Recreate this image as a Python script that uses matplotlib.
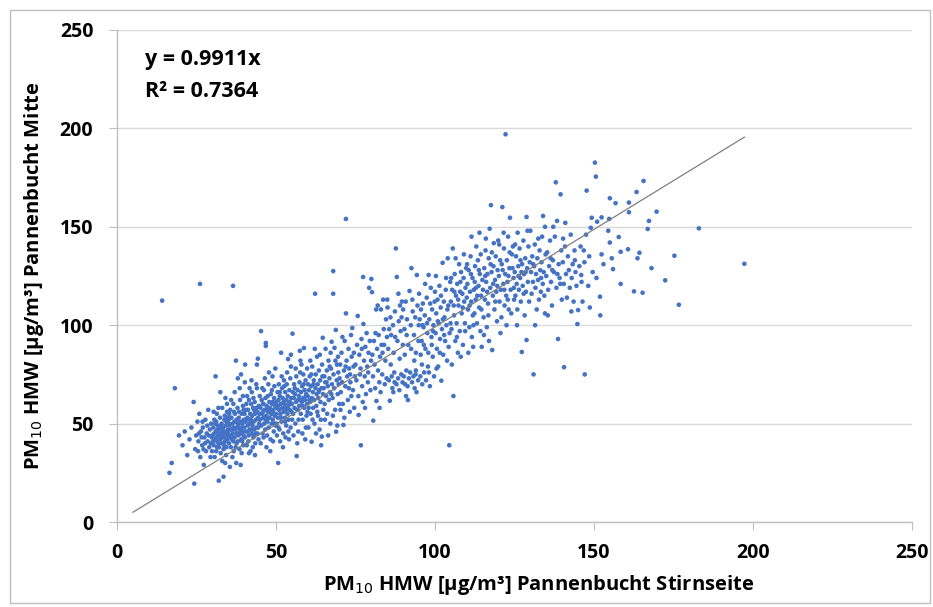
import numpy as np
import matplotlib
matplotlib.use("Agg")
import matplotlib.pyplot as plt
from matplotlib.patches import Rectangle

# PM10 half-hour means: (Stirnseite, Mitte)
punkte_niedrig = [
    (14.2, 112.5), (16.5, 25), (17.2, 30), (18.2, 68), (19.5, 44), (20.6, 39), (21.3, 46), (22.1, 34),
    (22.8, 42), (23.4, 48), (24.3, 19.5), (24.1, 61), (24.6, 37), (24.9, 44),
    (25.3, 51), (25.6, 41), (25.9, 55), (26.1, 121), (26.2, 33), (26.4, 46), (26.8, 39), (27.0, 48),
    (27.3, 29), (27.5, 43), (27.8, 52), (28.0, 36), (28.2, 45), (28.5, 41), (28.7, 57), (29.0, 38),
    (29.2, 47), (29.4, 33), (29.6, 50), (29.8, 43), (25.8, 45), (26.6, 43), (27.2, 37), (28.9, 44),
    (29.5, 40), (28.4, 49), (27.7, 40), (26.9, 51), (29.9, 36), (25.5, 36),
    (30.1, 44), (30.3, 48), (30.4, 39), (30.6, 52), (30.8, 42), (31.0, 74), (31.1, 46), (31.2, 36),
    (31.4, 55), (31.5, 41), (31.7, 49), (31.8, 44), (32.0, 21), (32.1, 38), (32.2, 47), (32.4, 53),
    (32.5, 42), (32.6, 35), (32.8, 45), (32.9, 50), (33.0, 40), (33.1, 58), (33.2, 44), (33.4, 48),
    (33.5, 37), (33.6, 43), (33.8, 52), (33.9, 46), (34.0, 41), (34.1, 63), (34.2, 49), (34.3, 34),
    (34.5, 45), (34.6, 56), (34.7, 42), (34.9, 47), (30.5, 45), (30.9, 50), (31.3, 43), (31.9, 40),
    (32.3, 44), (32.7, 49), (33.3, 46), (33.7, 39), (34.4, 51), (34.8, 44), (30.2, 41), (31.6, 47),
    (32.9, 43), (33.9, 54), (34.4, 38), (31.9, 58), (33.1, 31), (30.7, 33), (34.6, 60), (32.5, 66),
    (33.5, 23), (34.0, 30), (31.2, 51), (32.0, 45), (33.8, 45), (34.9, 53), (30.4, 56), (31.5, 38),
    (33.0, 48),
    (35.0, 46), (35.1, 52), (35.2, 40), (35.4, 49), (35.5, 44), (35.6, 57), (35.8, 38), (35.9, 47),
    (36.0, 53), (36.1, 42), (36.3, 50), (36.4, 45), (36.5, 120), (36.6, 60), (36.7, 36), (36.8, 48),
    (37.0, 43), (37.1, 55), (37.2, 47), (37.4, 82), (37.5, 51), (37.6, 40), (37.7, 45), (37.9, 58),
    (38.0, 73), (38.1, 49), (38.2, 44), (38.3, 53), (38.5, 37), (38.6, 47), (38.7, 62), (38.9, 51),
    (39.0, 75), (39.1, 42), (39.2, 55), (39.3, 48), (39.5, 46), (39.6, 59), (39.7, 39), (39.9, 52),
    (35.3, 55), (35.7, 43), (36.2, 47), (36.9, 51), (37.3, 38), (37.8, 48), (38.4, 56), (38.8, 45),
    (39.4, 50), (39.8, 44), (35.9, 62), (36.3, 33), (37.0, 66), (37.5, 30), (38.0, 41), (38.6, 68),
    (39.2, 35), (39.6, 64), (36.0, 44), (36.8, 56), (37.6, 52), (38.2, 50), (39.0, 47), (39.8, 57),
    (35.5, 28), (38.9, 29), (36.6, 41), (37.9, 45), (39.4, 41), (35.2, 50),
    (40.0, 48), (40.1, 55), (40.2, 43), (40.3, 80), (40.4, 51), (40.6, 46), (40.7, 60), (40.8, 39),
    (41.0, 53), (41.1, 49), (41.2, 57), (41.4, 44), (41.5, 62), (41.6, 50), (41.8, 47), (41.9, 55),
    (42.0, 36), (42.1, 52), (42.3, 45), (42.4, 66), (42.5, 54), (42.6, 49), (42.8, 58), (42.9, 43),
    (43.0, 51), (43.2, 47), (43.3, 61), (43.4, 55), (43.5, 40), (43.7, 52), (43.8, 70), (43.9, 48),
    (44.0, 80), (44.1, 56), (44.2, 45), (44.3, 83), (44.4, 53), (44.6, 59), (44.7, 50), (44.9, 64),
    (40.5, 57), (41.3, 41), (41.7, 68), (42.2, 60), (42.7, 38), (43.1, 57), (43.6, 45), (44.5, 42),
    (44.8, 55), (40.9, 64), (41.5, 35), (42.3, 72), (43.4, 34), (44.0, 68), (40.2, 71), (42.9, 63),
    (43.9, 58), (41.0, 46), (42.0, 50), (40.6, 52), (43.0, 44), (44.4, 48), (41.8, 52), (42.5, 47),
    (43.7, 56),
]

punkte_mittel = [
    (45.0, 52), (45.1, 58), (45.3, 97), (45.4, 49), (45.5, 62), (45.6, 55), (45.8, 45), (45.9, 60),
    (46.0, 53), (46.2, 67), (46.3, 50), (46.4, 57), (46.6, 47), (46.7, 63), (46.8, 91), (46.8, 89.5),
    (46.9, 54), (47.1, 59), (47.2, 44), (47.3, 51), (47.5, 56), (47.6, 70), (47.7, 48), (47.9, 61),
    (48.0, 53), (48.1, 58), (48.3, 42), (48.4, 65), (48.5, 55), (48.6, 50), (48.8, 60), (48.9, 74),
    (49.0, 52), (49.2, 57), (49.3, 46), (49.4, 63), (49.6, 54), (49.7, 59), (49.9, 49), (45.2, 40),
    (45.7, 68), (46.1, 43), (46.5, 73), (47.0, 38), (47.4, 64), (47.8, 76), (48.2, 36), (48.7, 67),
    (49.1, 41), (49.5, 69), (49.8, 78), (45.9, 56), (46.7, 52), (47.5, 53), (48.3, 57), (49.0, 61),
    (49.6, 50), (46.1, 60), (47.0, 57), (48.9, 55),
    (50.0, 55), (50.1, 61), (50.2, 50), (50.4, 58), (50.5, 66), (50.6, 53), (50.7, 30), (50.8, 62),
    (51.0, 57), (51.1, 47), (51.2, 64), (51.4, 55), (51.5, 60), (51.6, 86), (51.7, 51), (51.9, 68),
    (52.0, 58), (52.1, 63), (52.3, 45), (52.4, 56), (52.5, 72), (52.7, 60), (52.8, 53), (52.9, 66),
    (53.1, 58), (53.2, 49), (53.3, 62), (53.5, 76), (53.6, 55), (53.7, 64), (53.8, 82.8), (53.9, 59),
    (54.0, 52), (54.2, 67), (54.3, 57), (54.4, 61), (54.6, 48), (54.7, 85), (54.7, 79), (54.8, 63),
    (54.9, 56), (50.3, 44), (50.9, 70), (51.3, 41), (51.8, 74), (52.2, 38), (52.6, 69), (53.0, 43),
    (53.4, 70), (54.1, 42), (54.5, 73), (50.6, 59), (51.5, 53), (52.4, 61), (53.2, 57), (54.0, 60),
    (50.8, 48), (52.9, 51), (53.9, 46), (51.2, 66),
    (55.0, 60), (55.2, 95.7), (55.3, 66), (55.4, 55), (55.6, 63), (55.7, 70), (55.8, 58), (56.0, 65),
    (56.1, 50), (56.3, 61), (56.4, 74), (56.5, 33.5), (56.6, 57), (56.8, 67), (56.9, 62), (57.0, 46),
    (57.2, 64), (57.3, 59), (57.4, 71), (57.5, 87), (57.7, 82), (57.8, 55), (57.9, 66), (58.0, 80),
    (58.1, 61), (58.2, 69), (58.4, 52), (58.5, 63), (58.6, 75), (58.8, 88.4), (58.9, 58), (59.0, 67),
    (59.1, 62), (59.3, 72), (59.4, 48), (59.5, 65), (59.7, 60), (59.8, 78), (59.9, 56), (55.5, 44),
    (56.2, 78), (56.7, 40), (57.1, 52), (57.6, 76), (58.3, 45), (58.7, 70), (59.2, 42), (59.6, 54),
    (55.9, 68), (56.9, 57), (57.6, 62), (58.4, 59), (59.4, 64), (55.1, 52),
    (60.0, 64), (60.1, 70), (60.3, 58), (60.4, 67), (60.6, 74), (60.7, 61), (60.9, 55), (61.0, 69),
    (61.2, 40.8), (61.3, 63), (61.4, 79), (61.6, 66), (61.7, 58), (61.9, 72), (62.0, 62), (62.1, 50),
    (62.3, 116), (62.4, 68), (62.5, 75), (62.7, 59), (62.8, 65), (62.9, 84), (63.1, 70), (63.2, 54),
    (63.3, 63), (63.5, 77), (63.6, 67), (63.7, 47), (63.9, 72), (64.0, 61), (64.2, 39), (64.3, 68),
    (64.4, 43.4), (64.5, 80), (64.7, 93.6), (64.8, 65), (64.9, 57), (60.2, 48), (60.8, 82), (61.5, 52),
    (62.2, 88), (62.6, 45), (63.0, 56), (63.8, 85), (64.1, 52), (64.6, 74), (60.5, 62), (61.8, 70),
    (63.4, 66), (61.1, 75),
    (65.0, 68), (65.2, 74), (65.3, 60), (65.5, 71), (65.6, 88), (65.8, 64), (66.0, 77), (66.1, 55),
    (66.3, 69), (66.5, 82), (66.6, 62), (66.8, 73), (67.0, 66), (67.1, 50), (67.3, 78), (67.5, 91.6),
    (67.6, 70), (67.8, 63), (68.0, 127.5), (68.0, 116), (68.1, 75), (68.3, 68), (68.4, 88.5), (68.6, 57),
    (68.8, 97.6), (68.9, 45.9), (69.1, 72), (69.2, 80), (69.4, 65), (69.5, 84), (69.7, 70), (69.9, 60),
    (65.4, 52), (66.4, 44), (67.2, 86), (67.9, 54), (68.7, 82), (69.3, 49), (66.9, 79), (65.9, 71),
    (69.6, 76), (67.4, 65),
    (70.0, 73), (70.2, 80), (70.4, 66), (70.6, 86), (70.8, 71), (71.0, 60), (71.2, 49.3), (71.4, 77),
    (71.6, 92), (71.8, 69), (72.0, 106), (72.0, 154), (72.2, 82), (72.4, 74), (72.6, 62), (72.8, 88),
    (73.0, 78), (73.2, 56), (73.4, 71), (73.6, 95), (73.8, 84), (74.0, 98.6), (74.2, 67), (74.4, 79),
    (74.6, 58), (74.8, 74), (70.9, 94), (71.5, 53), (72.9, 68), (73.7, 64), (74.5, 86), (70.3, 57),
    (71.9, 79), (73.3, 75),
    (75.0, 80), (75.3, 72), (75.5, 90), (75.7, 104.7), (76.0, 54.4), (76.2, 85), (76.4, 75), (76.7, 39),
    (76.9, 93), (77.1, 69), (77.3, 61), (77.4, 124.5), (77.5, 100.6), (77.7, 82), (77.9, 74), (78.1, 89),
    (78.3, 65), (78.5, 96), (78.7, 79), (78.9, 71), (79.1, 86), (79.3, 119), (79.5, 92), (79.7, 67),
    (79.9, 82), (75.9, 64), (76.6, 78), (78.0, 58), (79.0, 76), (77.0, 88),
]

punkte_hoch = [
    (80.0, 123.5), (80.2, 116.8), (80.3, 85), (80.5, 74), (80.6, 51.5), (80.8, 92), (81.0, 80), (81.2, 68),
    (81.5, 108), (81.6, 61.5), (81.8, 88), (82.0, 110), (82.1, 77), (82.3, 95), (82.5, 71), (82.7, 84),
    (82.9, 66), (83.0, 108), (83.2, 90), (83.4, 75), (83.7, 113), (83.9, 98), (84.0, 90), (84.2, 70),
    (84.4, 82), (84.6, 103), (84.8, 73), (81.3, 96), (82.6, 58), (83.5, 86), (84.9, 94),
    (85.0, 113), (85.1, 109), (85.3, 88), (85.5, 72), (85.8, 61.6), (86.0, 104), (86.2, 95), (86.4, 74),
    (86.6, 68), (86.8, 100), (87.0, 86), (87.2, 76), (87.4, 107), (87.7, 139), (87.9, 70), (88.0, 124.5),
    (88.2, 92), (88.4, 73), (88.6, 102), (88.8, 67), (89.0, 110), (89.2, 97), (89.4, 75), (89.6, 112),
    (89.8, 71), (86.1, 80), (86.9, 66), (87.5, 94), (88.9, 83), (89.5, 104), (85.6, 98), (87.3, 71),
    (88.5, 116), (89.9, 90),
    (90.0, 108), (90.2, 74), (90.4, 98), (90.6, 70), (90.8, 112), (91.0, 77), (91.2, 103), (91.4, 69),
    (91.6, 90), (91.8, 73), (92.0, 117.4), (92.2, 76), (92.4, 100), (92.6, 129), (92.8, 71), (93.0, 107),
    (93.2, 74), (93.4, 95), (93.6, 68), (93.8, 104), (94.0, 77), (94.3, 125.5), (94.5, 110), (94.7, 72),
    (94.9, 100), (90.5, 85), (91.5, 62), (92.5, 88), (93.5, 82), (94.2, 66), (91.1, 95), (92.9, 113),
    (93.9, 75), (94.8, 92), (90.9, 64), (94.0, 86),
    (95.0, 116), (95.2, 103), (95.4, 74), (95.6, 108), (95.8, 92), (96.0, 70), (96.2, 111), (96.4, 99),
    (96.6, 76), (96.8, 105), (97.0, 88), (97.2, 72), (97.4, 114), (97.6, 96), (97.8, 79), (98.0, 125.5),
    (98.2, 103), (98.4, 69), (98.7, 119), (98.9, 94), (99.1, 108), (99.3, 84), (99.5, 100), (99.7, 74),
    (99.9, 112), (95.5, 85), (96.5, 90), (97.5, 101), (98.5, 111), (99.0, 90), (96.9, 121), (99.4, 97),
    (95.9, 80), (97.9, 86), (98.1, 76), (96.1, 100),
    (100.0, 117), (100.2, 96), (100.4, 106), (100.6, 88), (100.8, 113), (101.0, 79), (101.2, 101), (101.4, 120),
    (101.6, 93), (101.8, 109), (102.0, 71.8), (102.2, 98), (102.4, 131.7), (102.6, 85), (102.8, 112), (103.0, 104),
    (103.2, 92), (103.4, 118), (103.6, 100), (103.8, 82), (104.0, 134), (104.2, 110), (104.5, 39), (104.6, 96),
    (104.8, 122), (100.5, 78), (101.5, 86), (102.5, 103), (103.5, 124), (104.3, 89), (100.9, 102), (102.9, 95),
    (103.9, 108), (101.9, 115), (104.9, 101), (100.3, 125),
    (105.0, 112), (105.2, 98), (105.4, 118), (105.6, 139), (105.8, 64), (106.0, 105), (106.2, 126), (106.4, 92),
    (106.6, 115), (106.8, 101), (107.0, 121), (107.2, 86), (107.4, 110), (107.6, 131), (107.8, 97), (108.0, 122),
    (108.2, 127), (108.4, 106), (108.6, 116), (108.8, 90), (109.0, 124), (109.2, 112), (109.4, 101), (109.6, 119),
    (109.8, 129), (105.3, 80), (106.5, 134), (107.3, 113), (108.1, 84), (109.1, 136), (105.9, 110), (106.9, 94),
    (107.9, 117), (108.7, 109), (109.5, 97), (105.1, 124), (106.1, 117), (110.0, 114),
    (110.2, 121), (110.4, 108), (110.6, 128), (110.8, 99), (111.0, 117), (111.2, 135), (111.4, 112), (111.6, 94),
    (111.8, 124), (112.0, 89), (112.2, 118), (112.4, 106), (112.6, 130), (112.8, 113), (113.0, 140), (113.2, 101),
    (113.5, 133), (113.7, 120), (113.9, 109), (114.1, 126), (114.3, 97), (114.5, 115), (114.7, 89), (114.9, 123),
    (110.5, 86), (111.5, 145), (112.5, 122), (113.3, 115), (114.4, 136), (110.9, 110), (112.1, 100), (113.8, 128),
    (114.6, 108), (111.3, 126), (112.9, 119), (110.1, 131), (114.0, 147), (111.9, 105),
    (115.1, 118), (115.3, 104), (115.5, 129), (115.7, 113), (115.9, 138), (116.1, 122), (116.3, 99), (116.5, 126),
    (116.7, 111), (116.9, 134), (117.0, 92), (117.2, 149), (117.4, 119), (117.6, 161), (117.8, 127), (118.0, 87.4),
    (118.2, 115), (118.4, 130), (118.5, 141.7), (118.7, 108), (118.9, 123), (119.1, 135), (119.3, 117), (119.5, 102),
    (119.7, 128), (119.9, 143), (115.4, 95), (116.0, 144), (116.8, 105), (117.5, 131), (118.3, 121), (119.0, 112),
    (119.6, 120), (115.8, 125), (117.9, 137), (116.4, 117),
    (120.1, 125), (120.3, 112), (120.5, 133), (120.7, 118), (120.9, 104), (121.2, 160), (121.3, 128), (121.5, 121),
    (121.7, 139), (121.9, 110), (122.1, 126), (122.2, 197), (122.4, 115), (122.6, 133), (122.8, 122), (123.0, 145),
    (123.2, 108), (123.4, 129), (123.6, 154.6), (123.8, 118), (124.0, 106), (124.2, 136), (124.5, 140), (124.7, 124),
    (124.9, 113), (120.6, 96), (121.6, 147), (122.5, 100), (123.5, 137), (124.4, 129), (120.2, 141), (121.0, 131),
    (123.1, 125), (124.8, 119), (122.9, 113), (121.8, 118),
]

punkte_rand = [
    (125.1, 127), (125.3, 115), (125.5, 135), (125.7, 121), (125.9, 108), (126.0, 147), (126.2, 130), (126.4, 118),
    (126.6, 139), (126.8, 124), (127.0, 112), (127.3, 86.4), (127.4, 131), (127.6, 120), (127.8, 143), (128.0, 126),
    (128.2, 105), (128.4, 134), (128.6, 117), (128.8, 92.5), (128.8, 155), (129.0, 129), (129.2, 122), (129.4, 140),
    (129.6, 112), (129.8, 132), (125.8, 100), (126.9, 133), (127.9, 116), (129.1, 148), (126.3, 125), (128.5, 127),
    (125.2, 141), (127.2, 127),
    (130.0, 148), (130.2, 127), (130.4, 116), (130.6, 135), (130.8, 122), (131.0, 75), (131.2, 130), (131.4, 141),
    (131.6, 119), (131.8, 126), (132.0, 108), (132.2, 134), (132.4, 123), (132.7, 113), (132.9, 138), (133.1, 128),
    (133.3, 117), (133.5, 132), (133.7, 145), (133.9, 121), (134.0, 155.5), (134.2, 127), (134.4, 115), (134.6, 150),
    (134.6, 106), (134.8, 136), (131.5, 100), (132.5, 144), (133.4, 124), (130.9, 131),
    (135.0, 125), (135.3, 137), (135.6, 118), (135.9, 130), (136.2, 143), (136.5, 122), (136.8, 110), (137.1, 133),
    (137.4, 127), (137.7, 145), (138.0, 172.6), (138.2, 119), (138.4, 153), (138.7, 93), (138.9, 131), (139.2, 124),
    (139.5, 166.5), (139.7, 138), (139.9, 113), (135.5, 105), (136.4, 134), (137.2, 150), (138.5, 126), (139.4, 121),
    (136.9, 128),
    (140.2, 132), (140.5, 121), (140.6, 78.7), (140.9, 140), (141.2, 126), (141.5, 114), (141.8, 135), (142.1, 128),
    (142.4, 119), (142.7, 146), (143.0, 124), (143.3, 131), (143.6, 112), (143.9, 138), (144.2, 127), (144.5, 120),
    (144.8, 100.6), (141.0, 152), (142.9, 107), (144.0, 133), (140.3, 144),
    (145.0, 107.7), (145.4, 130), (146.0, 125.5), (146.1, 122), (146.4, 112), (146.8, 138), (147.0, 132), (147.1, 75),
    (147.5, 146), (147.7, 168.4), (148.2, 120), (148.7, 109), (149.0, 149.5), (149.3, 154.6), (149.6, 127), (145.8, 140),
    (148.5, 135),
    (150.3, 182.6), (150.6, 175.5), (151.0, 152.6), (151.9, 114.5), (152.0, 105), (152.4, 136), (152.4, 154.8),
    (154.5, 148), (154.8, 154), (155.0, 142), (155.0, 164.5), (156.0, 128.5), (156.8, 162), (157.8, 144.8),
    (158.4, 137.3), (158.4, 121), (153.0, 131), (150.8, 124), (155.6, 134),
    (160.7, 138.6), (161.0, 162.3), (161.0, 157.4), (162.6, 117.2), (163.4, 167.7), (163.7, 134), (164.3, 136.8),
    (165.3, 116.5), (165.6, 173.3), (166.9, 148.9), (167.3, 153), (168.1, 129), (169.7, 157.7), (172.4, 122.8),
    (175.3, 135.3), (176.7, 110.4), (183.0, 149.2), (197.3, 131.2),
]

steigung = 0.9911
bestimmtheit = 0.7364
trend_x = [5.0, 197.3]
y_ticks = [0, 50, 100, 150, 200, 250]
x_ticks = [0, 50, 100, 150, 200, 250]

plt.rcParams['font.family'] = ['Open Sans', 'DejaVu Sans']

alle = punkte_niedrig + punkte_mittel + punkte_hoch + punkte_rand
stirn = np.array([p[0] for p in alle])
mitte = np.array([p[1] for p in alle])

fig = plt.figure(figsize=(9.33, 6.07), dpi=100)
ax = fig.add_axes([0.1254, 0.140, 0.852, 0.8106])

# outer chart frame
fig.patches.append(Rectangle((10 / 933, 4 / 607), 920 / 933, 593 / 607, transform=fig.transFigure,
                             fill=False, edgecolor='#bfbfbf', linewidth=1.0))

ax.scatter(stirn, mitte, s=11, color='#4472C4', edgecolors='none', zorder=3)
tx = np.array(trend_x)
ax.plot(tx, steigung * tx, color='#7f7f7f', linewidth=0.9, zorder=4)

ax.set_xlim(0, 250)
ax.set_ylim(0, 250)
ax.set_xticks(x_ticks)
ax.set_yticks(y_ticks)
ax.grid(axis='y', color='#d9d9d9', linewidth=1.0)
ax.set_axisbelow(True)
for s in ['top', 'right']:
    ax.spines[s].set_visible(False)
for s in ['left', 'bottom']:
    ax.spines[s].set_color('#bfbfbf')
    ax.spines[s].set_linewidth(1.0)
ax.tick_params(axis='both', length=6, color='#bfbfbf', labelsize=14)
ax.tick_params(axis='y', pad=11)
ax.tick_params(axis='x', pad=9)
for lab in ax.get_xticklabels() + ax.get_yticklabels():
    lab.set_fontweight('bold')

ax.set_xlabel('PM$_{10}$ HMW [µg/m³] Pannenbucht Stirnseite', fontsize=14.5, fontweight='bold', labelpad=6)
ax.xaxis.set_label_coords(0.53, -0.103)
ax.set_ylabel('PM$_{10}$ HMW [µg/m³] Pannenbucht Mitte', fontsize=14.5, fontweight='bold', labelpad=10)

ax.text(0.035, 0.939, 'y = %.4fx' % steigung, transform=ax.transAxes, fontsize=15.5,
        fontweight='bold', va='center')
ax.text(0.035, 0.874, 'R² = %.4f' % bestimmtheit, transform=ax.transAxes, fontsize=15.5,
        fontweight='bold', va='center')

fig.savefig('out.png', dpi=100)
